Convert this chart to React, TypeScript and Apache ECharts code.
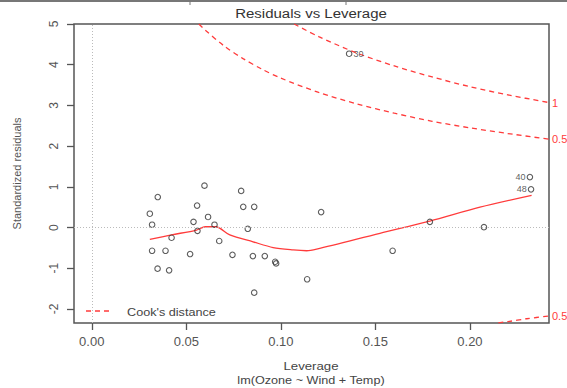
import React, { useEffect, useRef } from 'react';
import * as echarts from 'echarts';

// Leverage (hat values) and standardized residuals
const leverage = [
  0.0596, 0.0349, 0.0307, 0.0319, 0.0557, 0.0790, 0.0801, 0.0859, 0.0538, 0.0615,
  0.0649, 0.0559, 0.0825, 0.0422, 0.0674, 0.0319, 0.0390, 0.0520, 0.0744, 0.0852,
  0.0915, 0.0970, 0.0975, 0.0348, 0.0409, 0.1139, 0.0859, 0.1213, 0.1788, 0.2074,
  0.1591, 0.2317, 0.2323, 0.1361,
];
const stdResid = [
  1.03, 0.75, 0.34, 0.07, 0.54, 0.90, 0.51, 0.51, 0.14, 0.26,
  0.07, -0.08, -0.03, -0.25, -0.33, -0.57, -0.57, -0.65, -0.67, -0.70,
  -0.70, -0.84, -0.88, -1.01, -1.05, -1.27, -1.60, 0.38, 0.14, 0.01,
  -0.57, 1.24, 0.94, 4.27,
];
const pointIds = [
  '', '', '', '', '', '', '', '', '', '',
  '', '', '', '', '', '', '', '', '', '',
  '', '', '', '', '', '', '', '', '', '',
  '', '40', '48', '30',
];

// Red smoother through the points
const smoothH = [0.0307, 0.0422, 0.0554, 0.0600, 0.0656, 0.0730, 0.0853, 0.0959, 0.1065, 0.1136, 0.1189, 0.1524, 0.1788, 0.2053, 0.2326];
const smoothR = [-0.29, -0.18, -0.06, 0.02, 0.02, -0.18, -0.35, -0.49, -0.55, -0.57, -0.53, -0.14, 0.16, 0.50, 0.79];

// Cook's distance contours
const cookHalfUpperH = [0.0566, 0.06, 0.07, 0.08, 0.09, 0.10, 0.12, 0.14, 0.16, 0.18, 0.20, 0.22, 0.2418];
const cookHalfUpperR = [5.0, 4.85, 4.46, 4.15, 3.89, 3.67, 3.32, 3.04, 2.81, 2.61, 2.45, 2.31, 2.17];
const cookOneUpperH = [0.107, 0.12, 0.14, 0.16, 0.18, 0.20, 0.22, 0.2418];
const cookOneUpperR = [5.0, 4.69, 4.29, 3.97, 3.70, 3.46, 3.26, 3.07];
const cookHalfLowerH = [0.215, 0.22, 0.23, 0.2418];
const cookHalfLowerR = [-2.34, -2.31, -2.24, -2.17];

const xTicks = [0, 0.05, 0.1, 0.15, 0.2];
const yTicks = [-2, -1, 0, 1, 2, 3, 4, 5];

const title = 'Residuals vs Leverage';
const xName = 'Leverage';
const subCaption = 'lm(Ozone ~ Wind + Temp)';
const yName = 'Standardized residuals';
const legendName = "Cook's distance";

const FONT = '"Liberation Sans", Arial, sans-serif';
const RED = '#ff3b3b';

export default function App() {
  const ref = useRef<HTMLDivElement>(null);
  useEffect(() => {
    document.body.style.margin = '0';
    const chart = echarts.init(ref.current!, null, { renderer: 'svg' });
    const zip = (a: number[], b: number[]) => a.map((v, i) => [v, b[i]]);
    const cookLine = (h: number[], r: number[], lab: string) => ({
      type: 'line',
      data: zip(h, r),
      symbol: 'none',
      smooth: 0.3,
      silent: true,
      lineStyle: { color: RED, width: 1.3, type: [5, 4] },
      endLabel: { show: true, formatter: lab, color: RED, fontSize: 11, fontFamily: FONT, distance: 3 },
      z: 3,
    });
    chart.setOption({
      animation: false,
      backgroundColor: '#fff',
      textStyle: { fontFamily: FONT },
      grid: { left: 74, right: 18, top: 24, bottom: 65, show: true, borderColor: '#555', borderWidth: 1.5, backgroundColor: 'transparent' },
      xAxis: {
        type: 'value', min: -0.0094, max: 0.2418,
        axisLine: { show: false, onZero: false }, splitLine: { show: false },
        axisTick: { show: true, inside: false, length: 7, customValues: xTicks, lineStyle: { color: '#555', width: 1.3 } },
        axisLabel: { customValues: xTicks, formatter: (v: number) => v.toFixed(2), fontSize: 13, color: '#555', margin: 12, fontFamily: FONT },
      },
      yAxis: {
        type: 'value', min: -2.344, max: 5.0,
        axisLine: { show: false, onZero: false }, splitLine: { show: false },
        axisTick: { show: true, inside: false, length: 7, customValues: yTicks, lineStyle: { color: '#555', width: 1.3 } },
        axisLabel: { customValues: yTicks, rotate: 90, formatter: (v: number) => String(v), fontSize: 12, color: '#555', margin: 14, fontFamily: FONT },
        name: yName, nameLocation: 'middle', nameRotate: 90, nameGap: 52,
        nameTextStyle: { fontSize: 11, color: '#555', fontFamily: FONT },
      },
      graphic: [
        { type: 'line', shape: { x1: 0, y1: 1, x2: 567, y2: 1 }, style: { stroke: '#777', lineWidth: 2 } },
        { type: 'line', shape: { x1: 190, y1: 0, x2: 190, y2: 5 }, style: { stroke: '#777', lineWidth: 1 } },
        { type: 'line', shape: { x1: 346, y1: 0, x2: 346, y2: 5 }, style: { stroke: '#777', lineWidth: 1 } },
        { type: 'text', x: 311, y: 14, scaleX: 1.25, style: { text: title, fill: '#333', font: `12px ${FONT}`, textAlign: 'center', textVerticalAlign: 'middle' } },
        { type: 'text', x: 311, y: 366, scaleX: 1.15, style: { text: xName, fill: '#444', font: `11.5px ${FONT}`, textAlign: 'center', textVerticalAlign: 'middle' } },
        { type: 'text', x: 311, y: 380, scaleX: 1.1, style: { text: subCaption, fill: '#444', font: `11.5px ${FONT}`, textAlign: 'center', textVerticalAlign: 'middle' } },
        { type: 'line', shape: { x1: 86, y1: 311, x2: 113, y2: 311 }, style: { stroke: RED, lineWidth: 1.3, lineDash: [5, 4] } },
        { type: 'text', x: 127, y: 312, scaleX: 1.15, style: { text: legendName, fill: '#444', font: `11px ${FONT}`, textAlign: 'left', textVerticalAlign: 'middle' } },
      ],
      series: [
        {
          type: 'scatter',
          data: leverage.map((h, i) => {
            const item: any = { value: [h, stdResid[i]] };
            if (pointIds[i]) {
              item.label = { show: true, formatter: pointIds[i], position: h > 0.2 ? 'left' : 'right', distance: 1, fontSize: 9, color: '#333', fontFamily: FONT };
            }
            return item;
          }),
          symbol: 'circle', symbolSize: 5.5,
          itemStyle: { color: 'rgba(0,0,0,0)', borderColor: '#333', borderWidth: 1.1 },
          silent: true,
          z: 4,
          markLine: {
            silent: true, symbol: 'none', label: { show: false },
            lineStyle: { type: [1, 2], color: '#bbb', width: 1 },
            data: [{ xAxis: 0 }, { yAxis: 0 }],
          },
        },
        {
          type: 'line', data: zip(smoothH, smoothR), symbol: 'none', smooth: 0.3, silent: true,
          lineStyle: { color: RED, width: 1.3 }, z: 3,
        },
        cookLine(cookHalfUpperH, cookHalfUpperR, '0.5'),
        cookLine(cookOneUpperH, cookOneUpperR, '1'),
        cookLine(cookHalfLowerH, cookHalfLowerR, '0.5'),
      ],
    });
    return () => chart.dispose();
  }, []);
  return <div ref={ref} style={{ width: 567, height: 388 }} />;
}
